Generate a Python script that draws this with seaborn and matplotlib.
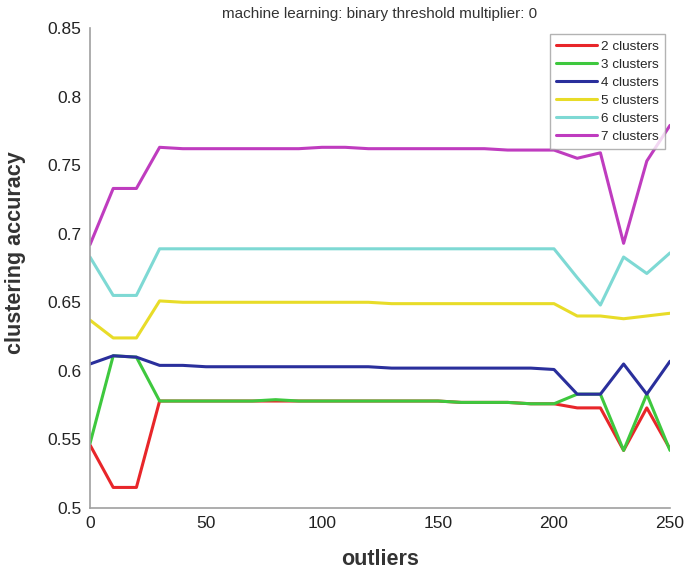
import numpy as np
import pandas as pd
import matplotlib
matplotlib.use("Agg")
import matplotlib.pyplot as plt
import seaborn as sns

outliers = list(range(0, 260, 10))
labels = ["2 clusters", "3 clusters", "4 clusters", "5 clusters", "6 clusters", "7 clusters"]
c2 = [0.546, 0.515, 0.515, 0.578, 0.578, 0.578, 0.578, 0.578, 0.578, 0.578, 0.578, 0.578, 0.578, 0.578,
      0.578, 0.578, 0.577, 0.577, 0.577, 0.576, 0.576, 0.573, 0.573, 0.542, 0.573, 0.543]
c3 = [0.547, 0.611, 0.610, 0.578, 0.578, 0.578, 0.578, 0.578, 0.579, 0.578, 0.578, 0.578, 0.578, 0.578,
      0.578, 0.578, 0.577, 0.577, 0.577, 0.576, 0.576, 0.583, 0.583, 0.542, 0.583, 0.542]
c4 = [0.605, 0.611, 0.610, 0.604, 0.604, 0.603, 0.603, 0.603, 0.603, 0.603, 0.603, 0.603, 0.603, 0.602,
      0.602, 0.602, 0.602, 0.602, 0.602, 0.602, 0.601, 0.583, 0.583, 0.605, 0.583, 0.607]
c5 = [0.637, 0.624, 0.624, 0.651, 0.650, 0.650, 0.650, 0.650, 0.650, 0.650, 0.650, 0.650, 0.650, 0.649,
      0.649, 0.649, 0.649, 0.649, 0.649, 0.649, 0.649, 0.640, 0.640, 0.638, 0.640, 0.642]
c6 = [0.683, 0.655, 0.655, 0.689, 0.689, 0.689, 0.689, 0.689, 0.689, 0.689, 0.689, 0.689, 0.689, 0.689,
      0.689, 0.689, 0.689, 0.689, 0.689, 0.689, 0.689, 0.668, 0.648, 0.683, 0.671, 0.686]
c7 = [0.692, 0.733, 0.733, 0.763, 0.762, 0.762, 0.762, 0.762, 0.762, 0.762, 0.763, 0.763, 0.762, 0.762,
      0.762, 0.762, 0.762, 0.762, 0.761, 0.761, 0.761, 0.755, 0.759, 0.693, 0.753, 0.779]
colors = ["#e8262a", "#3ec83e", "#2a2f9c", "#e8dc28", "#7ed9d4", "#bf3cbf"]

series = [c2, c3, c4, c5, c6, c7]
df = pd.concat([pd.DataFrame({"outliers": outliers, "acc": s, "k": lab}) for s, lab in zip(series, labels)],
               ignore_index=True)

sns.set_style("white")
plt.rcParams["font.family"] = ["Liberation Sans", "DejaVu Sans"]

fig = plt.figure(figsize=(6.86, 5.77), dpi=100)
ax = fig.add_axes([90 / 686, 1 - 508 / 577, 580 / 686, 480 / 577])
sns.lineplot(data=df, x="outliers", y="acc", hue="k", palette=colors, linewidth=2.2, ax=ax, sort=False)

ax.set_xlim(0, 250)
ax.set_ylim(0.5, 0.85)
ax.set_xticks([0, 50, 100, 150, 200, 250])
ax.set_yticks([0.5, 0.55, 0.6, 0.65, 0.7, 0.75, 0.8, 0.85])
ax.set_yticklabels(["0.5", "0.55", "0.6", "0.65", "0.7", "0.75", "0.8", "0.85"])
for sp in ["top", "right"]:
    ax.spines[sp].set_visible(False)
for sp in ["left", "bottom"]:
    ax.spines[sp].set_color("#a0a0a0")
    ax.spines[sp].set_linewidth(1.2)
ax.tick_params(direction="in", length=4, color="#a0a0a0", labelsize=12.5, labelcolor="#222222", pad=6)
ax.set_xlabel("outliers", fontsize=15.5, fontweight="bold", color="#333333")
ax.set_ylabel("clustering accuracy", fontsize=15.5, fontweight="bold", color="#333333")
ax.xaxis.set_label_coords(0.5, -0.085)
ax.yaxis.set_label_coords(-0.11, 0.533)
ax.set_title("machine learning: binary threshold multiplier: 0", fontsize=11, color="#333333", pad=7)

leg = ax.legend(loc="upper right", bbox_to_anchor=(0.991, 0.987), fontsize=9.7, frameon=True, fancybox=False,
                edgecolor="#a0a0a0", handlelength=3.0, labelspacing=0.42, borderpad=0.45, handletextpad=0.3,
                borderaxespad=0.0)
leg.get_frame().set_linewidth(1.0)

fig.savefig("out.png", dpi=100)
